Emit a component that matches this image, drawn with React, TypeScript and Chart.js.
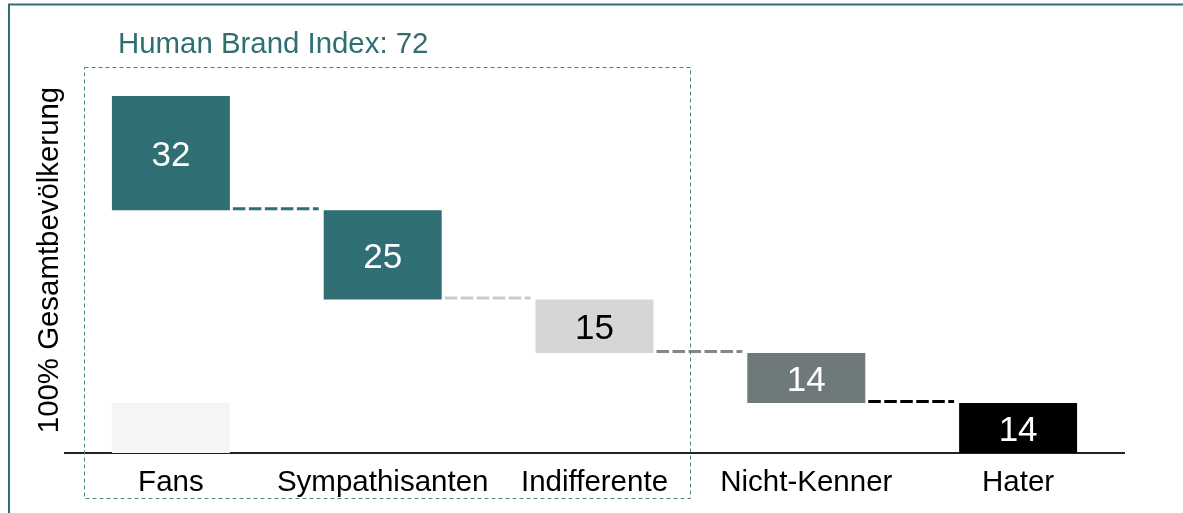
import React, { useEffect, useRef } from "react";
import { Chart, registerables } from "chart.js";

Chart.register(...registerables);

const categories = ["Fans", "Sympathisanten", "Indifferente", "Nicht-Kenner", "Hater"];
const values = [32, 25, 15, 14, 14];
const bottoms = [68, 43, 28, 14, 0];
const ghostValues = [14, null, null, null, null];
const barColors = ["#2f6e72", "#2f6e72", "#d5d6d8", "#6e7a7a", "#000000"];
const connectorColors = ["#2f6e72", "#c9cacc", "#868787", "#000000"];
const labelColors = ["#ffffff", "#ffffff", "#000000", "#ffffff", "#ffffff"];
const ghostColor = "#f4f5f7";
const titleText = "Human Brand Index: 72";
const yTitle = "100% Gesamtbevölkerung";
const teal = "#2f6e72";
const FONT = "'Liberation Sans', Arial, Helvetica, sans-serif";

const overlayPlugin = {
  id: "overlay",
  beforeDraw(chart: any) {
    const ctx = chart.ctx;
    ctx.save();
    ctx.fillStyle = "#ffffff";
    ctx.fillRect(0, 0, chart.width, chart.height);
    // outer frame
    ctx.strokeStyle = teal;
    ctx.lineWidth = 2;
    ctx.beginPath();
    ctx.moveTo(9, chart.height + 5);
    ctx.lineTo(9, 4.5);
    ctx.lineTo(chart.width + 5, 4.5);
    ctx.stroke();
    // title
    ctx.fillStyle = teal;
    ctx.font = `29.4px ${FONT}`;
    ctx.textAlign = "left";
    ctx.textBaseline = "alphabetic";
    ctx.fillText(titleText, 118, 53);
    // y title
    ctx.fillStyle = "#000000";
    ctx.font = `29.4px ${FONT}`;
    ctx.translate(58, 260);
    ctx.rotate(-Math.PI / 2);
    ctx.textAlign = "center";
    ctx.fillText(yTitle, 0, 0);
    ctx.restore();
  },
  afterDatasetsDraw(chart: any) {
    const ctx = chart.ctx;
    const meta = chart.getDatasetMeta(0);
    const y = chart.scales.y;
    ctx.save();
    // connectors
    for (let i = 0; i < categories.length - 1; i++) {
      const a = meta.data[i];
      const b = meta.data[i + 1];
      const right = a.x + a.width / 2;
      const left = b.x - b.width / 2;
      const py = y.getPixelForValue(bottoms[i]) - 1.5;
      ctx.strokeStyle = connectorColors[i];
      ctx.lineWidth = 3;
      ctx.setLineDash([12.5, 3.5]);
      ctx.beginPath();
      ctx.moveTo(right + 3, py);
      ctx.lineTo(left - 5, py);
      ctx.stroke();
    }
    ctx.setLineDash([]);
    // value labels
    ctx.font = `35px ${FONT}`;
    ctx.textAlign = "center";
    ctx.textBaseline = "alphabetic";
    for (let i = 0; i < categories.length; i++) {
      const el = meta.data[i];
      const top = y.getPixelForValue(bottoms[i] + values[i]);
      const bot = y.getPixelForValue(bottoms[i]);
      ctx.fillStyle = labelColors[i];
      ctx.fillText(String(values[i]), el.x, (top + bot) / 2 + 13);
    }
    // dashed box around brand-index categories
    const x0 = meta.data[0].x - 87;
    const x1 = meta.data[2].x + 95;
    ctx.strokeStyle = "#4a8487";
    ctx.lineWidth = 1;
    ctx.setLineDash([4, 3]);
    ctx.strokeRect(Math.round(x0) + 0.5, 67.5, Math.round(x1 - x0), 431);
    ctx.restore();
  },
};

export default function App() {
  const ref = useRef<HTMLCanvasElement | null>(null);
  useEffect(() => {
    if (!ref.current) return;
    const chart = new Chart(ref.current, {
      type: "bar",
      data: {
        labels: categories,
        datasets: [
          {
            data: values.map((v, i) => [bottoms[i], bottoms[i] + v]) as any,
            backgroundColor: barColors,
            borderWidth: 0,
            grouped: false,
            categoryPercentage: 1,
            barPercentage: 0.557,
            order: 1,
          },
          {
            data: ghostValues.map((v) => (v == null ? null : [0, v])) as any,
            backgroundColor: ghostColor,
            borderWidth: 0,
            grouped: false,
            categoryPercentage: 1,
            barPercentage: 0.557,
            order: 2,
          },
        ],
      },
      options: {
        responsive: false,
        animation: false,
        devicePixelRatio: 1,
        layout: { padding: { left: 65, right: 59, top: 96, bottom: 0.5 } },
        plugins: { legend: { display: false }, tooltip: { enabled: false } },
        scales: {
          x: {
            grid: { display: false, drawTicks: false },
            border: { display: true, color: "#222222", width: 2 },
            ticks: {
              color: "#000000",
              padding: 12,
              font: { size: 29.5, family: FONT, lineHeight: 1.2 },
              maxRotation: 0,
              autoSkip: false,
            },
          },
          y: {
            display: false,
            min: 0,
            max: 100,
          },
        },
      },
      plugins: [overlayPlugin],
    });
    return () => chart.destroy();
  }, []);
  return (
    <div style={{ position: "fixed", left: 0, top: 0, width: 1183, height: 513 }}>
      <canvas ref={ref} width={1183} height={513} style={{ display: "block" }} />
    </div>
  );
}
